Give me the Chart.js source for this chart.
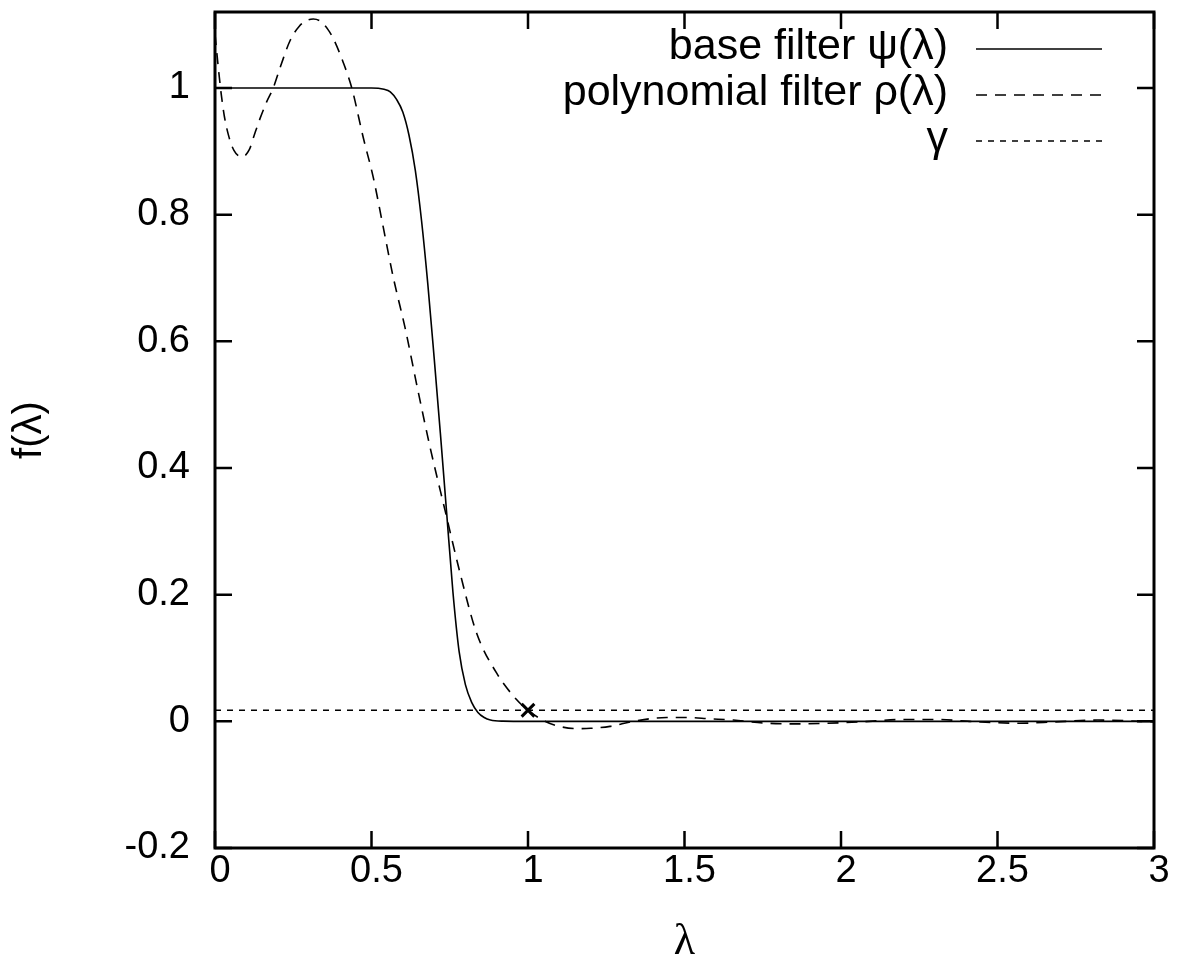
<!DOCTYPE html>
<html>
<head>
<meta charset="utf-8">
<script src="https://cdn.jsdelivr.net/npm/chart.js@4.4.1/dist/chart.umd.min.js"></script>
<style>
  body { margin: 0; background: #fff; }
  canvas { display: block; }
</style>
</head>
<body>
<canvas id="filterChart" width="1178" height="977"></canvas>
<script>
// values
const lambdaPsi = [0, 0.5, 0.54, 0.56, 0.58, 0.6, 0.62, 0.64, 0.66, 0.68, 0.70, 0.72, 0.74, 0.76, 0.78, 0.80, 0.82, 0.84, 0.86, 0.88, 0.92, 1.0, 3.0];
const psiValues = [1, 1, 0.998, 0.994, 0.982, 0.962, 0.925, 0.87, 0.79, 0.69, 0.575, 0.455, 0.33, 0.205, 0.11, 0.058, 0.03, 0.014, 0.006, 0.002, 0.0003, 0, 0];

const lambdaRho = [0, 0.01, 0.02, 0.03, 0.045, 0.06, 0.085, 0.11, 0.125, 0.144, 0.165, 0.186, 0.21, 0.24, 0.27, 0.295, 0.314, 0.335, 0.36, 0.378, 0.41, 0.437, 0.474, 0.506, 0.538, 0.57, 0.607, 0.646, 0.687, 0.735, 0.783, 0.836, 0.9, 0.964, 1.0, 1.054, 1.1, 1.156, 1.2, 1.262, 1.337, 1.443, 1.507, 1.58, 1.656, 1.763, 1.869, 1.954, 2.06, 2.2, 2.306, 2.41, 2.57, 2.68, 2.82, 2.955, 3.0];
const rhoValues = [1.085, 1.035, 0.99, 0.955, 0.922, 0.902, 0.891, 0.903, 0.925, 0.952, 0.978, 1.0, 1.035, 1.075, 1.098, 1.107, 1.109, 1.106, 1.093, 1.078, 1.04, 1.0, 0.921, 0.858, 0.779, 0.70, 0.622, 0.528, 0.433, 0.333, 0.234, 0.139, 0.076, 0.034, 0.0175, 0.0, -0.008, -0.0115, -0.011, -0.008, 0, 0.006, 0.006, 0.004, 0.002, -0.003, -0.004, -0.003, -0.001, 0.003, 0.003, 0, -0.003, -0.001, 0.002, 0, -0.001];

const gammaValue = 0.0175;
const gammaRange = [0, 3];
const markPoint = [1, gammaValue];

const seriesLabels = ['base filter \u03C8(\u03BB)', 'polynomial filter \u03C1(\u03BB)', '\u03B3'];
const xRange = [0, 3];
const yRange = [-0.2, 1.12];

const FONT = '"Liberation Sans", Arial, Helvetica, sans-serif';
const TICK_LEN = 17;

function toPoints(xs, ys) {
    return xs.map((x, i) => ({ x: x, y: ys[i] }));
}

function fmt(v) {
    return String(+(+v).toFixed(2));
}

// gnuplot style frame with ticks on the inside of all four sides
const frameTicks = {
    id: 'frameTicks',
    afterDatasetsDraw(chart) {
        const { ctx, chartArea: a, scales: { x, y } } = chart;
        ctx.save();
        ctx.strokeStyle = '#000';
        ctx.lineWidth = 2.5;
        ctx.beginPath();
        x.ticks.forEach(t => {
            const px = x.getPixelForValue(t.value);
            ctx.moveTo(px, a.bottom); ctx.lineTo(px, a.bottom - TICK_LEN);
            ctx.moveTo(px, a.top); ctx.lineTo(px, a.top + TICK_LEN);
        });
        y.ticks.forEach(t => {
            const py = y.getPixelForValue(t.value);
            ctx.moveTo(a.left, py); ctx.lineTo(a.left + TICK_LEN, py);
            ctx.moveTo(a.right, py); ctx.lineTo(a.right - TICK_LEN, py);
        });
        ctx.stroke();
        ctx.lineWidth = 3;
        ctx.strokeRect(a.left, a.top, a.width, a.height);
        ctx.restore();
    }
};

// key in the top right corner: text right aligned, line sample after it
const keyBox = {
    id: 'keyBox',
    afterDatasetsDraw(chart) {
        const ctx = chart.ctx;
        const textRight = 948, lineStart = 976, lineEnd = 1102;
        let rowY = 47;
        ctx.save();
        ctx.font = '43px ' + FONT;
        ctx.textAlign = 'right';
        ctx.textBaseline = 'middle';
        ctx.fillStyle = '#000';
        chart.data.datasets.forEach(ds => {
            if (!ds.inKey) return;
            ctx.fillText(ds.label, textRight, rowY);
            ctx.strokeStyle = '#000';
            ctx.lineWidth = ds.borderWidth;
            ctx.setLineDash(ds.borderDash || []);
            ctx.beginPath();
            ctx.moveTo(lineStart, rowY + 2);
            ctx.lineTo(lineEnd, rowY + 2);
            ctx.stroke();
            rowY += 46;
        });
        ctx.restore();
    }
};

const ctx = document.getElementById('filterChart');

const chart = new Chart(ctx, {
    type: 'line',
    data: {
        datasets: [
            {
                label: seriesLabels[0],
                inKey: true,
                data: toPoints(lambdaPsi, psiValues),
                borderColor: '#000',
                borderWidth: 1.6,
                pointRadius: 0,
                cubicInterpolationMode: 'monotone'
            },
            {
                label: seriesLabels[1],
                inKey: true,
                data: toPoints(lambdaRho, rhoValues),
                borderColor: '#000',
                borderWidth: 1.6,
                borderDash: [11, 8],
                pointRadius: 0,
                cubicInterpolationMode: 'monotone'
            },
            {
                label: seriesLabels[2],
                inKey: true,
                data: toPoints(gammaRange, [gammaValue, gammaValue]),
                borderColor: '#000',
                borderWidth: 1.5,
                borderDash: [6, 6],
                pointRadius: 0
            },
            {
                label: 'mark',
                inKey: false,
                data: [{ x: markPoint[0], y: markPoint[1] }],
                showLine: false,
                pointStyle: 'crossRot',
                pointRadius: 9,
                borderColor: '#000',
                borderWidth: 3
            }
        ]
    },
    options: {
        responsive: false,
        animation: false,
        layout: { padding: { top: 10, right: 24, left: 0, bottom: 0 } },
        plugins: {
            legend: { display: false },
            tooltip: { enabled: false }
        },
        scales: {
            x: {
                type: 'linear',
                min: xRange[0],
                max: xRange[1],
                bounds: 'data',
                grid: { display: false, drawTicks: false },
                border: { display: false },
                ticks: {
                    stepSize: 0.5,
                    includeBounds: false,
                    maxRotation: 0,
                    autoSkip: false,
                    padding: 5,
                    labelOffset: 5,
                    color: '#000',
                    font: { family: FONT, size: 38, lineHeight: 1 },
                    callback: fmt
                },
                title: {
                    display: true,
                    text: '\u03BB',
                    color: '#000',
                    font: { family: '"Liberation Serif", "DejaVu Serif", serif', size: 44 },
                    padding: { top: 0, bottom: 8 }
                },
                afterFit(scale) {
                    scale.height = 129;
                    scale.paddingLeft = 0;
                    scale.paddingRight = 0;
                }
            },
            y: {
                type: 'linear',
                min: yRange[0],
                max: yRange[1],
                bounds: 'data',
                grid: { display: false, drawTicks: false },
                border: { display: false },
                ticks: {
                    stepSize: 0.2,
                    includeBounds: false,
                    autoSkip: false,
                    padding: 25,
                    color: '#000',
                    font: { family: FONT, size: 38 },
                    callback: fmt
                },
                title: {
                    display: true,
                    text: 'f(\u03BB)',
                    color: '#000',
                    font: { family: FONT, size: 40 },
                    padding: { top: 6, bottom: 0 }
                },
                afterFit(scale) {
                    scale.width = 215;
                    scale.paddingTop = 0;
                    scale.paddingBottom = 0;
                }
            }
        }
    },
    plugins: [frameTicks, keyBox]
});
</script>
</body>
</html>
